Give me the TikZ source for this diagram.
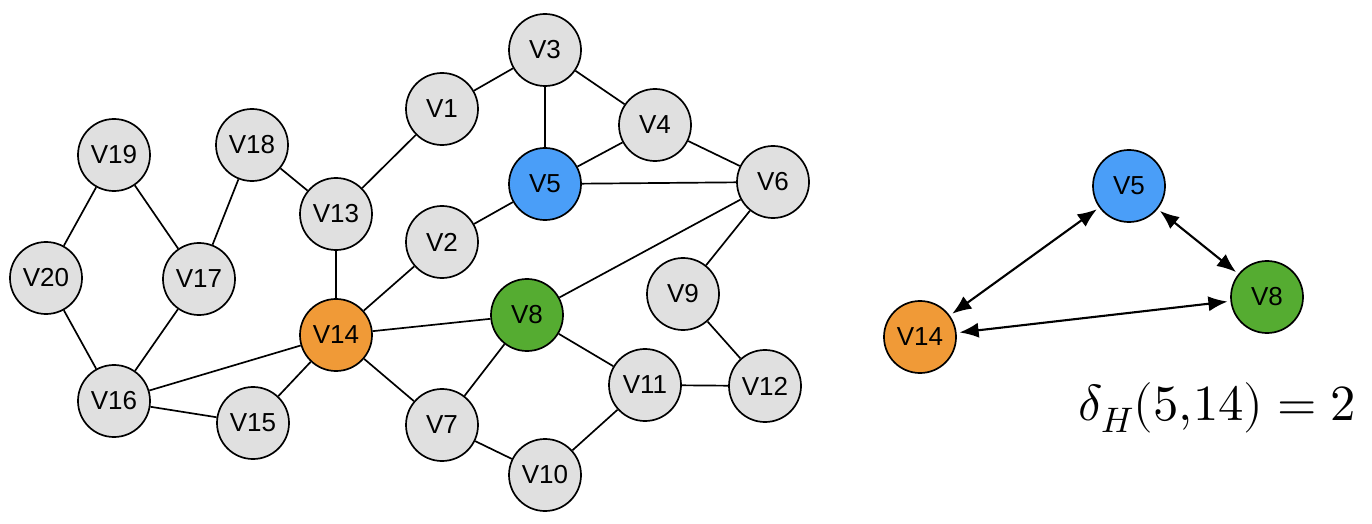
\documentclass[tikz,border=0pt]{standalone}
\usepackage{fontspec}
\usepackage{unicode-math}
\setsansfont{Liberation Sans}
\usetikzlibrary{arrows.meta}
\definecolor{vgray}{HTML}{E0E0E0}
\definecolor{vblue}{HTML}{4A9EF8}
\definecolor{vorange}{HTML}{F09A37}
\definecolor{vgreen}{HTML}{55AC31}
\begin{document}
\begin{tikzpicture}[x=0.025cm,y=-0.025cm,>={Latex[length=4.8mm,width=3.8mm]},line width=1.2pt,
  vert/.style={circle,draw,line width=1.2pt,fill=vgray,minimum size=1.8cm,inner sep=0pt,font=\sffamily\fontsize{18.5}{22}\selectfont},
  dist/.style={<->,line width=1.5pt,shorten >=2pt,shorten <=2pt}]
\useasboundingbox (0,0) rectangle (1372,524);
% left graph
\node[vert] (v1) at (442,109) {V1};
\node[vert] (v2) at (442,242) {V2};
\node[vert] (v3) at (545,50) {V3};
\node[vert] (v4) at (655,125) {V4};
\node[vert,fill=vblue] (v5) at (545,184) {V5};
\node[vert] (v6) at (773,182) {V6};
\node[vert] (v7) at (442,425) {V7};
\node[vert,fill=vgreen] (v8) at (527,315) {V8};
\node[vert] (v9) at (683,294) {V9};
\node[vert] (v10) at (545,475) {V10};
\node[vert] (v11) at (645,385) {V11};
\node[vert] (v12) at (765,386) {V12};
\node[vert] (v13) at (336,214) {V13};
\node[vert,fill=vorange] (v14) at (336,335) {V14};
\node[vert] (v15) at (253,423) {V15};
\node[vert] (v16) at (114,401) {V16};
\node[vert] (v17) at (199,279) {V17};
\node[vert] (v18) at (252,145) {V18};
\node[vert] (v19) at (114,155) {V19};
\node[vert] (v20) at (46,278) {V20};
\draw (v3) -- (v1);
\draw (v3) -- (v5);
\draw (v3) -- (v4);
\draw (v4) -- (v5);
\draw (v4) -- (v6);
\draw (v5) -- (v6);
\draw (v1) -- (v13);
\draw (v18) -- (v13);
\draw (v18) -- (v17);
\draw (v19) -- (v17);
\draw (v19) -- (v20);
\draw (v20) -- (v16);
\draw (v17) -- (v16);
\draw (v13) -- (v14);
\draw (v2) -- (v5);
\draw (v2) -- (v14);
\draw (v14) -- (v8);
\draw (v14) -- (v16);
\draw (v14) -- (v15);
\draw (v14) -- (v7);
\draw (v16) -- (v15);
\draw (v8) -- (v6);
\draw (v8) -- (v7);
\draw (v8) -- (v11);
\draw (v6) -- (v9);
\draw (v9) -- (v12);
\draw (v11) -- (v12);
\draw (v11) -- (v10);
\draw (v7) -- (v10);
% right part
\node[vert,fill=vblue] (h5) at (1129,186) {V5};
\node[vert,fill=vgreen] (h8) at (1267,297) {V8};
\node[vert,fill=vorange] (h14) at (920,337) {V14};
\draw[dist] (h14) -- (h5);
\draw[dist] (h5) -- (h8);
\draw[dist] (h14) -- (h8);
\node[anchor=base east,inner sep=0pt,font=\fontsize{36}{44}\selectfont] (delta) at (1357,420) {$\delta_H(5{,}14)=2$};
\end{tikzpicture}
\end{document}
